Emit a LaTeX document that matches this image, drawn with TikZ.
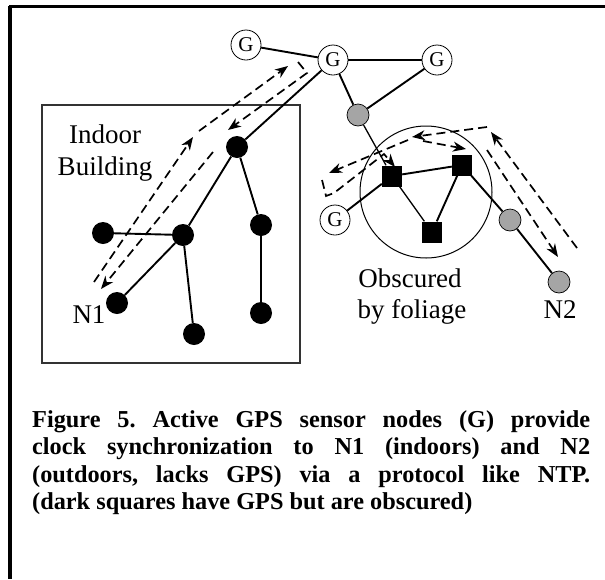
\documentclass[tikz,border=0pt]{standalone}
\usepackage{fontspec}
\setmainfont{Liberation Serif}
\usetikzlibrary{arrows.meta}
\definecolor{nodegray}{RGB}{165,165,165}
\begin{document}
\begin{tikzpicture}[x=1pt,y=-1pt,
  gnode/.style={circle, draw, line width=0.8pt, fill=white, minimum size=30pt, inner sep=0pt, font=\fontsize{21}{21}\selectfont},
  gynode/.style={circle, draw, line width=0.7pt, fill=nodegray, minimum size=22pt, inner sep=0pt},
  bdot/.style={circle, fill=black, minimum size=22pt, inner sep=0pt},
  sqnode/.style={rectangle, fill=black, minimum width=20pt, minimum height=21pt, inner sep=0pt},
  link/.style={line width=1.9pt},
  thinlink/.style={line width=1.3pt},
  sync/.style={line width=1.7pt, dash pattern=on 9pt off 5pt, -{Stealth[length=13pt,width=10pt,inset=4pt]}},
  lbl/.style={font=\fontsize{27}{27}\selectfont, inner sep=0pt, anchor=base}
]
\useasboundingbox (0,0) rectangle (605,579);
% frame
\draw[line width=3pt] (9,6) -- (605,6);
\draw[line width=3.5pt] (10,6) -- (10,579);

% indoor building box
\draw[line width=1.2pt, draw=black!80] (42,105) rectangle (300,363);

% obscuring foliage circle
\draw[line width=1pt] (426,192) circle[radius=66];

% nodes
\node[gnode] (g1) at (246,45) {G};
\node[gnode] (g2) at (333,60) {G};
\node[gnode] (g3) at (437,60) {G};
\node[gnode] (g4) at (335,220) {G};
\node[gynode] (p1) at (358,115) {};
\node[gynode] (p2) at (510,220) {};
\node[gynode] (p3) at (559,282) {};
\node[sqnode] (s1) at (392,176) {};
\node[sqnode] (s2) at (462,165) {};
\node[sqnode] (s3) at (432,232) {};
\node[bdot] (d1) at (237,147) {};
\node[bdot] (d2) at (261,225) {};
\node[bdot] (d3) at (183,235) {};
\node[bdot] (d4) at (103,233) {};
\node[bdot] (d5) at (117,303) {};
\node[bdot] (d6) at (194,334) {};
\node[bdot] (d7) at (261,313) {};

% links
\draw[link] (g1) -- (g2);
\draw[link] (g2) -- (g3);
\draw[link] (g2) -- (p1);
\draw[link] (g3) -- (p1);
\draw[thinlink] (p1) -- (s1);
\draw[link] (s1) -- (s2);
\draw[thinlink] (s1) -- (s3);
\draw[link] (s2) -- (s3);
\draw[link] (g4) -- (s1);
\draw[link] (s2) -- (p2);
\draw[link] (p2) -- (p3);
\draw[link] (g2) -- (d1);
\draw[link] (d1) -- (d3);
\draw[link] (d1) -- (d2);
\draw[link] (d3) -- (d4);
\draw[link] (d3) -- (d5);
\draw[link] (d3) -- (d6);
\draw[link] (d2) -- (d7);

% synchronisation exchanges (left)
\coordinate (a1) at (94,282);
\coordinate (a2) at (193,137);
\coordinate (a3) at (199,131);
\coordinate (a4) at (288,66);
\coordinate (a5) at (298,62);
\coordinate (a6) at (307,73);
\coordinate (a7) at (228,130);
\coordinate (a8) at (213,152);
\coordinate (a9) at (101,289);
\draw[sync] (a1) -- (a2);
\draw[sync] (a3) -- (a4);
\draw[sync] (a5) -- (a6) -- (a7);
\draw[sync] (a8) -- (a9);

% synchronisation exchanges (right)
\coordinate (b1) at (577,248);
\coordinate (b2) at (491,132);
\coordinate (b3) at (487,127);
\coordinate (b4) at (412,137);
\coordinate (b5) at (408,140);
\coordinate (b6) at (329,173);
\coordinate (b7) at (322,180);
\coordinate (b8) at (326,196);
\coordinate (b9) at (334,193);
\coordinate (b10) at (384,154);
\coordinate (b11) at (395,167);
\coordinate (b12) at (423,141);
\coordinate (b13) at (466,149);
\coordinate (b14) at (487,150);
\coordinate (b15) at (558,257);
\draw[sync] (b1) -- (b2);
\draw[sync] (b3) -- (b4);
\draw[sync] (b5) -- (b6);
\draw[sync] (b7) -- (b8) -- (b9) -- (b10) -- (b11);
\draw[sync] (b12) -- (b13);
\draw[sync] (b14) -- (b15);

% labels
\node[lbl] (lin) at (105,143) {Indoor};
\node[lbl] (lbu) at (105,175) {Building};
\node[lbl] (ln1) at (89,323) {N1};
\node[lbl] (lob) at (410,287) {Obscured};
\node[lbl] (lby) at (412,318) {by foliage};
\node[lbl] (ln2) at (560,318) {N2};

% caption
\node[anchor=base west, text width=558pt, inner sep=0pt, align=justify,
      font=\bfseries\fontsize{24.3}{27.5}\selectfont] (cap) at (32,427)
{\frenchspacing\hyphenpenalty=10000 Figure 5. Active GPS sensor nodes (G) provide\linebreak
clock synchronization to N1 (indoors) and N2\linebreak
(outdoors, lacks GPS) via a protocol like NTP.\linebreak
(dark squares have GPS but are obscured)};
\end{tikzpicture}
\end{document}
